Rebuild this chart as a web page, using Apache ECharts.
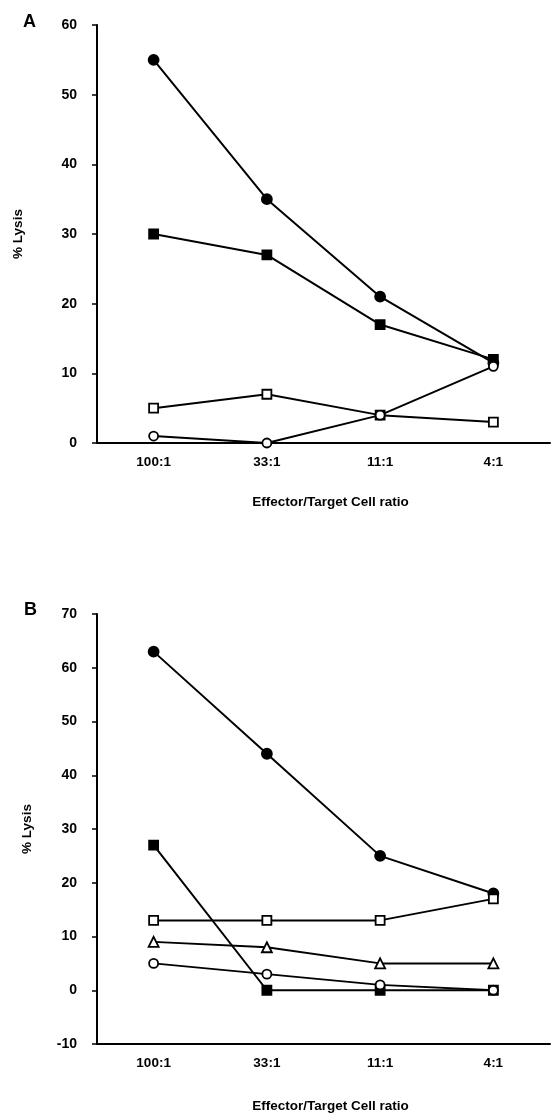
<!DOCTYPE html>
<html>
<head>
<meta charset="utf-8">
<script src="https://cdn.jsdelivr.net/npm/echarts@6/dist/echarts.min.js"></script>
<style>
  html, body { margin: 0; padding: 0; background: #fff; }
  #chart { width: 551px; height: 1114px; }
</style>
</head>
<body>
<div id="chart"></div>
<script>
// categories (effector/target ratio)
var ratios = ['100:1', '33:1', '11:1', '4:1']

// panel A
var aFilledCircle = [55, 35, 21, 11.5]
var aFilledSquare = [30, 27, 17, 12]
var aOpenSquare = [5, 7, 4, 3]
var aOpenCircle = [1, 0, 4, 11]

// panel B
var bFilledCircle = [63, 44, 25, 18]
var bFilledSquare = [27, 0, 0, 0]
var bOpenSquare = [13, 13, 13, 17]
var bOpenTriangle = [9, 8, 5, 5]
var bOpenCircle = [5, 3, 1, 0]

var font = 'Liberation Sans, Arial, Helvetica, sans-serif'
var chart = echarts.init(document.getElementById('chart'))

function xAxis(gridIndex, nameGap) {
  return {
    type: 'category',
    gridIndex: gridIndex,
    data: ratios,
    boundaryGap: true,
    name: 'Effector/Target Cell ratio',
    nameLocation: 'middle',
    nameGap: nameGap,
    nameTextStyle: { color: '#000', fontWeight: 'bold', fontSize: 13.5, fontFamily: font, padding: [0, 0, 0, 14] },
    axisLine: { onZero: false, lineStyle: { color: '#000', width: 2 } },
    axisTick: { alignWithLabel: true, length: 3, lineStyle: { color: '#000', width: 1 } },
    axisLabel: { color: '#000', fontWeight: 'bold', fontSize: 13.5, fontFamily: font, margin: 12 },
    splitLine: { show: false }
  }
}

function yAxis(gridIndex, min, max, nameGap) {
  return {
    type: 'value',
    gridIndex: gridIndex,
    min: min,
    max: max,
    interval: 10,
    name: '% Lysis',
    nameLocation: 'middle',
    nameGap: nameGap,
    nameTextStyle: { color: '#000', fontWeight: 'bold', fontSize: 13.5, fontFamily: font },
    axisLine: { show: true, lineStyle: { color: '#000', width: 2 } },
    axisTick: { show: true, length: 5, lineStyle: { color: '#000', width: 1.5 } },
    axisLabel: { color: '#000', fontWeight: 'bold', fontSize: 14, fontFamily: font, margin: 20 },
    splitLine: { show: false }
  }
}

function line(data, idx, symbol, filled, size) {
  return {
    type: 'line',
    xAxisIndex: idx,
    yAxisIndex: idx,
    data: data,
    symbol: symbol,
    symbolSize: size || 10,
    showAllSymbol: true,
    lineStyle: { color: '#000', width: 2 },
    itemStyle: { color: filled ? '#000' : '#fff', borderColor: '#000', borderWidth: 1.8 },
    emphasis: { disabled: true },
    animation: false,
    z: filled ? 3 : 4
  }
}

// in B the 4:1 point at 0 shows as an open square
var bFilledSquareData = bFilledSquare.map(function(v, i) {
  return i === 3 ? { value: v, itemStyle: { color: '#fff' } } : v
})

chart.setOption({
  backgroundColor: '#fff',
  grid: [
    { left: 97, top: 25, width: 453, height: 418 },
    { left: 97, top: 614, width: 453, height: 432 }
  ],
  xAxis: [xAxis(0, 52), xAxis(1, 55)],
  yAxis: [yAxis(0, 0, 60, 72), yAxis(1, -10, 70, 63)],
  graphic: [
    { type: 'text', left: 23, top: 13, style: { text: 'A', fontSize: 18, fontWeight: 'bold', fontFamily: font, fill: '#000' } },
    { type: 'text', left: 24, top: 601, style: { text: 'B', fontSize: 18, fontWeight: 'bold', fontFamily: font, fill: '#000' } }
  ],
  series: [
    line(aFilledCircle, 0, 'circle', true),
    line(aFilledSquare, 0, 'rect', true, 9),
    line(aOpenSquare, 0, 'rect', false, 9),
    line(aOpenCircle, 0, 'circle', false, 9),
    line(bFilledCircle, 1, 'circle', true),
    line(bFilledSquareData, 1, 'rect', true, 9),
    line(bOpenCircle, 1, 'circle', false, 9),
    line(bOpenSquare, 1, 'rect', false, 9),
    line(bOpenTriangle, 1, 'triangle', false, 10)
  ]
})
</script>
</body>
</html>
